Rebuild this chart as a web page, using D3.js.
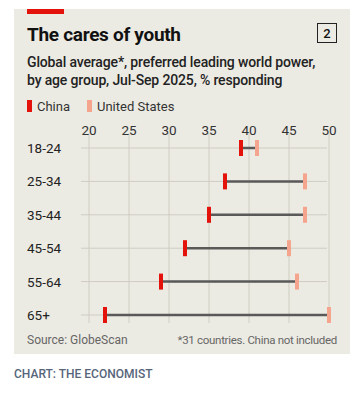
<!DOCTYPE html>
<html lang="en">
<head>
<meta charset="UTF-8">
<title>The cares of youth</title>
<script src="https://d3js.org/d3.v7.min.js"></script>
<style>
    body { margin: 0; background: #fff; }
    text { font-family: Roboto, "Noto Sans", sans-serif; }
</style>
</head>
<body>
<script>
    // Data
    var ageGroups = ["18-24", "25-34", "35-44", "45-54", "55-64", "65+"];
    var china = [39, 37, 35, 32, 29, 22];
    var usa = [41, 47, 47, 45, 46, 50];
    var xTicks = [20, 25, 30, 35, 40, 45, 50];

    var W = 363, H = 398;
    var svg = d3.select("body").append("svg")
        .attr("width", W)
        .attr("height", H);

    // Panel background
    svg.append("rect")
        .attr("x", 14).attr("y", 9)
        .attr("width", 336).attr("height", 345)
        .attr("fill", "#ecebe3");

    // Red tag at top
    svg.append("rect")
        .attr("x", 27).attr("y", 9)
        .attr("width", 37).attr("height", 5)
        .attr("fill", "#e3120b");

    // Title
    svg.append("text")
        .attr("x", 27).attr("y", 41)
        .style("font-size", "19px")
        .style("font-weight", "bold")
        .style("letter-spacing", "-0.3px")
        .attr("fill", "#111")
        .text("The cares of youth");

    // Numbered box
    svg.append("rect")
        .attr("x", 317.5).attr("y", 23.5)
        .attr("width", 19).attr("height", 19)
        .attr("fill", "none")
        .attr("stroke", "#222")
        .attr("stroke-width", 1);
    svg.append("text")
        .attr("x", 327).attr("y", 38)
        .attr("text-anchor", "middle")
        .style("font-size", "13px")
        .style("font-weight", "500")
        .attr("fill", "#111")
        .text("2");

    // Subtitle
    svg.append("text")
        .attr("x", 27).attr("y", 67)
        .style("font-size", "14px")
        .style("font-weight", "500")
        .style("letter-spacing", "-0.15px")
        .attr("fill", "#222")
        .text("Global average*, preferred leading world power,");
    svg.append("text")
        .attr("x", 27).attr("y", 85)
        .style("font-size", "14px")
        .style("font-weight", "500")
        .style("letter-spacing", "-0.15px")
        .attr("fill", "#222")
        .text("by age group, Jul-Sep 2025, % responding");

    // Legend
    var legend = [{ name: "China", color: "#e3120b", x: 27 }, { name: "United States", color: "#f5a58e", x: 87 }];
    legend.forEach(function (d) {
        svg.append("rect")
            .attr("x", d.x).attr("y", 100)
            .attr("width", 5).attr("height", 12)
            .attr("fill", d.color);
        svg.append("text")
            .attr("x", d.x + 10).attr("y", 111)
            .style("font-size", "13px")
            .attr("fill", "#333")
            .text(d.name);
    });

    // Scales
    var x = d3.scaleLinear().domain([20, 50]).range([89, 329]);
    var y = d3.scalePoint().domain(ageGroups).range([148, 315]);

    // Vertical gridlines
    svg.selectAll(".vgrid")
        .data(xTicks)
        .enter().append("line")
        .attr("x1", d => x(d)).attr("x2", d => x(d))
        .attr("y1", 133).attr("y2", 323)
        .attr("stroke", "#cfccc3")
        .attr("stroke-width", 1);

    // Horizontal gridlines
    svg.selectAll(".hgrid")
        .data(ageGroups)
        .enter().append("line")
        .attr("x1", 81).attr("x2", 327)
        .attr("y1", d => y(d)).attr("y2", d => y(d))
        .attr("stroke", "#cfccc3")
        .attr("stroke-width", 1);

    // Tick labels on top
    svg.selectAll(".xlab")
        .data(xTicks)
        .enter().append("text")
        .attr("x", d => x(d))
        .attr("y", 135)
        .attr("text-anchor", "middle")
        .style("font-size", "13.5px")
        .attr("fill", "#333")
        .text(d => d);

    // Row labels
    svg.selectAll(".ylab")
        .data(ageGroups)
        .enter().append("text")
        .attr("x", 27)
        .attr("y", d => y(d) + 5)
        .style("font-size", "13.5px")
        .attr("fill", "#222")
        .text(d => d);

    // Connectors
    svg.selectAll(".conn")
        .data(ageGroups)
        .enter().append("line")
        .attr("x1", (d, i) => x(china[i])).attr("x2", (d, i) => x(usa[i]))
        .attr("y1", d => y(d)).attr("y2", d => y(d))
        .attr("stroke", "#595959")
        .attr("stroke-width", 2.5);

    // Markers
    function markers(values, color) {
        svg.selectAll(null)
            .data(ageGroups)
            .enter().append("rect")
            .attr("x", (d, i) => x(values[i]) - 2)
            .attr("y", d => y(d) - 8)
            .attr("width", 4)
            .attr("height", 16)
            .attr("fill", color);
    }
    markers(usa, "#f5a58e");
    markers(china, "#e3120b");

    // Footnotes
    svg.append("text")
        .attr("x", 27).attr("y", 344)
        .style("font-size", "12px")
        .attr("fill", "#666")
        .text("Source: GlobeScan");
    svg.append("text")
        .attr("x", 337).attr("y", 344)
        .attr("text-anchor", "end")
        .style("font-size", "11.5px")
        .style("letter-spacing", "-0.3px")
        .attr("fill", "#666")
        .text("*31 countries. China not included");

    svg.append("text")
        .attr("x", 14).attr("y", 378)
        .style("font-size", "12px")
        .style("font-weight", "500")
        .attr("fill", "#56657a")
        .text("CHART: THE ECONOMIST");
</script>
</body>
</html>
